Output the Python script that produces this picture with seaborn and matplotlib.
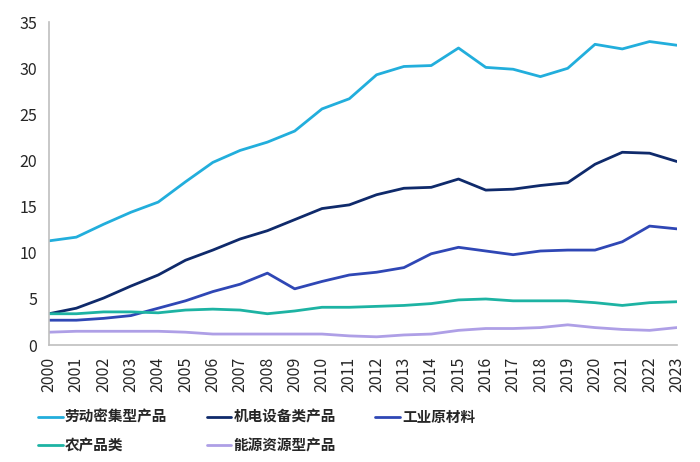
import pandas as pd
import matplotlib.pyplot as plt
import seaborn as sns

years = list(range(2000, 2024))

labor = [11.3, 11.7, 13.1, 14.4, 15.5, 17.7, 19.8, 21.1, 22.0, 23.2, 25.6, 26.7,
         29.3, 30.2, 30.3, 32.2, 30.1, 29.9, 29.1, 30.0, 32.6, 32.1, 32.9, 32.5]
machinery = [3.4, 4.0, 5.1, 6.4, 7.6, 9.2, 10.3, 11.5, 12.4, 13.6, 14.8, 15.2,
             16.3, 17.0, 17.1, 18.0, 16.8, 16.9, 17.3, 17.6, 19.6, 20.9, 20.8, 19.9]
industrial = [2.7, 2.7, 2.9, 3.2, 4.0, 4.8, 5.8, 6.6, 7.8, 6.1, 6.9, 7.6,
              7.9, 8.4, 9.9, 10.6, 10.2, 9.8, 10.2, 10.3, 10.3, 11.2, 12.9, 12.6]
agri = [3.4, 3.4, 3.6, 3.6, 3.5, 3.8, 3.9, 3.8, 3.4, 3.7, 4.1, 4.1,
        4.2, 4.3, 4.5, 4.9, 5.0, 4.8, 4.8, 4.8, 4.6, 4.3, 4.6, 4.7]
energy = [1.4, 1.5, 1.5, 1.5, 1.5, 1.4, 1.2, 1.2, 1.2, 1.2, 1.2, 1.0,
          0.9, 1.1, 1.2, 1.6, 1.8, 1.8, 1.9, 2.2, 1.9, 1.7, 1.6, 1.9]

series_names = ["劳动密集型产品", "机电设备类产品", "工业原材料", "农产品类", "能源资源型产品"]
colors = ["#22AEDC", "#0F2A6B", "#2F47B5", "#1DB3A3", "#AE9FE6"]


def main():
    sns.set_style("white")
    plt.rcParams["font.family"] = ["Noto Sans CJK SC", "DejaVu Sans"]

    frames = []
    for name, vals in zip(series_names, [labor, machinery, industrial, agri, energy]):
        frames.append(pd.DataFrame({"year": years, "value": vals, "series": name}))
    df = pd.concat(frames, ignore_index=True)

    fig = plt.figure(figsize=(7, 4.62), dpi=100)
    ax = fig.add_axes([0.07, 0.253, 0.897, 0.699])

    sns.lineplot(data=df, x="year", y="value", hue="series",
                 hue_order=series_names, palette=colors, linewidth=2.0, ax=ax)

    ax.set_xlim(2000, 2023)
    ax.set_ylim(0, 35)
    ax.set_yticks(range(0, 36, 5))
    ax.set_xticks(years)
    ax.set_xticklabels([str(y) for y in years], rotation=90)
    ax.set_xlabel("")
    ax.set_ylabel("")
    ax.tick_params(axis="both", labelsize=11.5, colors="#A6A6A6",
                   labelcolor="#262626", length=5, width=1, direction="out")
    sns.despine(ax=ax)
    for s in ["left", "bottom"]:
        ax.spines[s].set_color("#BFBFBF")
        ax.spines[s].set_linewidth(1.2)

    # legend filled row by row: reorder for column-major fill
    handles, labels = ax.get_legend_handles_labels()
    ax.get_legend().remove()
    order = [0, 3, 1, 4, 2]
    fig.legend([handles[i] for i in order], [labels[i] for i in order],
               ncol=3, loc="upper left",
               bbox_to_anchor=(0.054, 0.115), frameon=False,
               prop={"size": 10.5, "weight": "bold"},
               handlelength=1.7, handletextpad=0.15, columnspacing=2.7,
               labelspacing=0.85, borderpad=0, borderaxespad=0)

    fig.savefig("out.png", dpi=100)


if __name__ == "__main__":
    main()
